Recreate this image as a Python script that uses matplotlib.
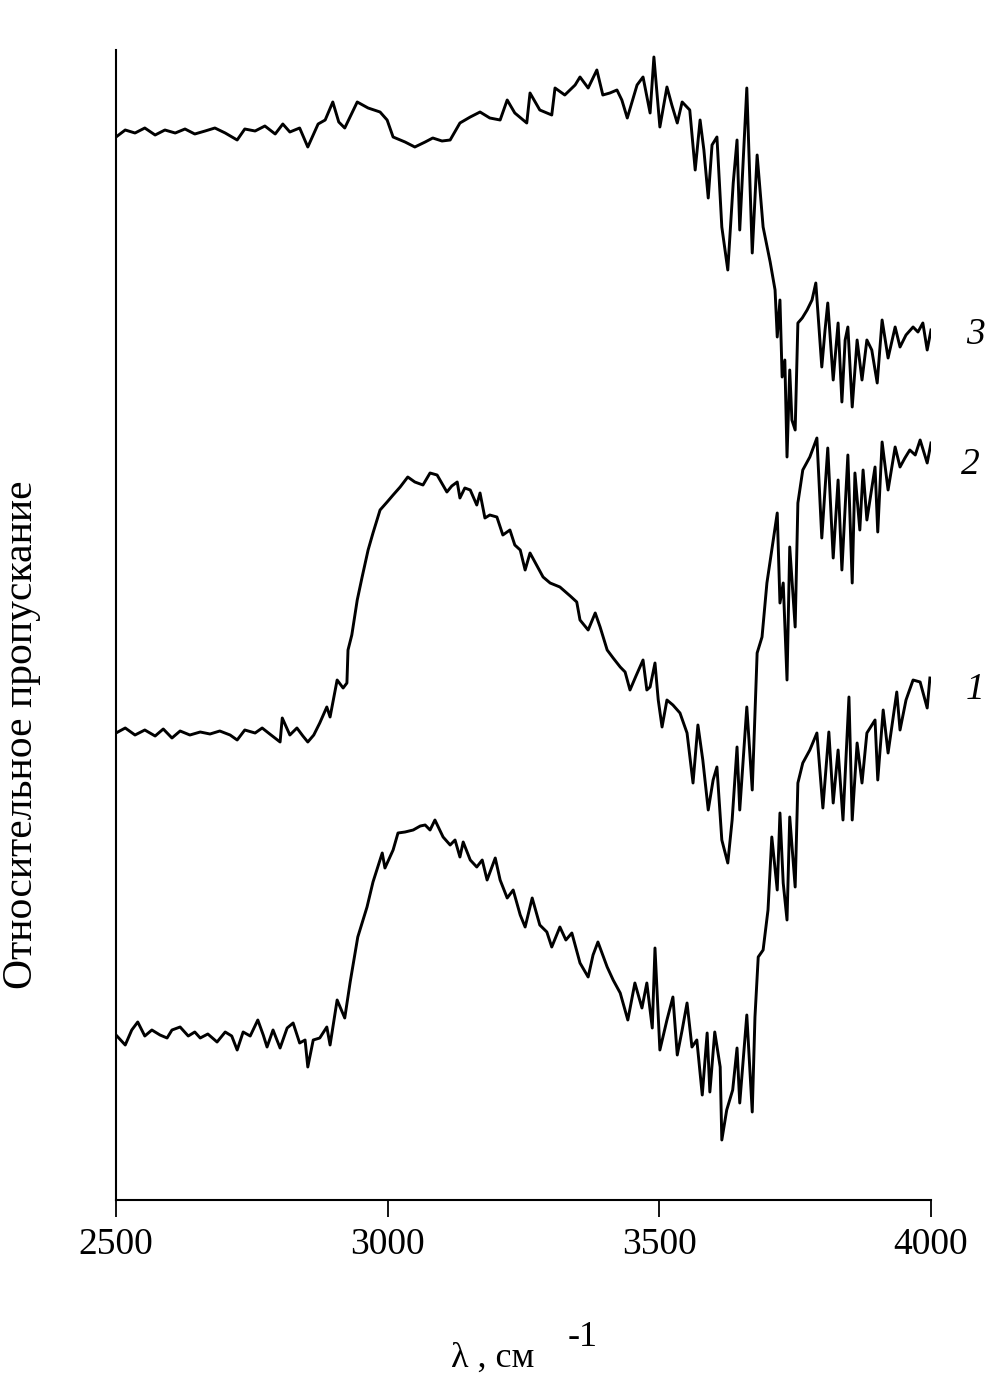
import matplotlib
matplotlib.use("Agg")
import matplotlib.pyplot as plt

plt.rcParams['font.family'] = ['Liberation Serif', 'DejaVu Serif']

# Wavenumber (cm^-1) and relative transmittance (arbitrary units)
curve3 = [(2500,1063),(2517,1070),(2535,1067),(2553,1072),(2572,1065),(2590,1070),(2609,1067),(2627,1071),
          (2645,1066),(2664,1069),(2682,1072),(2701,1067),(2723,1060),(2737,1071),(2756,1069),(2774,1074),
          (2793,1066),(2807,1076),(2820,1068),(2838,1072),(2853,1053),(2872,1076),(2885,1080),(2899,1098),
          (2910,1078),(2921,1072),(2944,1098),(2964,1092),(2986,1088),(2999,1080),(3010,1063),(3032,1058),
          (3050,1053),(3069,1058),(3083,1062),(3100,1059),(3115,1060),(3133,1077),(3152,1083),(3170,1088),
          (3188,1082),(3207,1080),(3220,1100),(3234,1087),(3256,1077),(3262,1107),(3280,1090),(3302,1085),
          (3308,1112),(3326,1105),(3345,1115),(3354,1123),(3369,1112),(3385,1130),(3396,1105),(3409,1107),
          (3422,1110),(3431,1100),(3441,1082),(3459,1115),(3470,1123),(3483,1087),(3490,1143),(3501,1073),
          (3514,1113),(3523,1095),(3533,1077),(3542,1098),(3556,1090),(3566,1030),(3575,1080),(3582,1050),
          (3590,1002),(3597,1055),(3606,1063),(3615,973),(3626,930),(3636,1017),(3643,1060),(3648,970),
          (3661,1112),(3671,947),(3680,1045),(3691,973),(3704,938),(3713,910),(3717,863),(3722,900),
          (3726,823),(3731,840),(3735,743),(3740,830),(3744,780),(3750,770),(3755,877),(3763,882),
          (3772,890),(3781,900),(3788,917),(3799,833),(3805,870),(3810,897),(3820,820),(3829,877),
          (3836,798),(3842,860),(3847,873),(3855,793),(3864,860),(3873,820),(3882,860),(3891,850),
          (3901,817),(3910,880),(3921,842),(3934,873),(3943,853),(3954,865),(3967,873),(3976,868),
          (3985,877),(3993,850),(4000,870)]

curve2 = [(2500,467),(2517,472),(2535,465),(2553,470),(2572,464),(2587,471),(2603,462),(2618,469),
          (2636,465),(2655,468),(2673,466),(2691,469),(2710,465),(2723,460),(2737,470),(2756,467),
          (2769,472),(2783,466),(2802,458),(2806,482),(2820,465),(2833,472),(2844,464),(2853,458),
          (2864,465),(2875,477),(2888,493),(2894,483),(2907,520),(2918,512),(2925,517),(2927,550),
          (2934,565),(2944,600),(2953,623),(2964,650),(2973,667),(2986,690),(2999,698),(3010,705),
          (3023,713),(3037,723),(3050,718),(3065,715),(3078,727),(3091,725),(3109,708),(3118,714),
          (3128,718),(3133,702),(3142,712),(3152,710),(3164,695),(3170,707),(3179,682),(3188,685),
          (3201,683),(3212,665),(3225,670),(3234,655),(3244,650),(3253,630),(3262,647),(3271,638),
          (3286,623),(3299,617),(3317,613),(3336,604),(3348,598),(3354,580),(3369,570),(3382,587),
          (3391,573),(3404,550),(3415,542),(3428,533),(3437,528),(3446,510),(3457,524),(3470,540),
          (3477,510),(3483,513),(3492,537),(3498,500),(3505,473),(3514,500),(3525,495),(3538,487),
          (3551,467),(3562,417),(3571,475),(3580,440),(3590,390),(3599,420),(3606,433),(3615,360),
          (3626,337),(3634,380),(3643,453),(3648,390),(3661,493),(3671,410),(3680,547),(3689,563),
          (3698,617),(3707,650),(3717,687),(3722,597),(3728,617),(3735,520),(3740,653),(3750,573),
          (3755,697),(3764,730),(3777,743),(3790,762),(3799,662),(3810,752),(3820,642),(3829,720),
          (3836,630),(3847,745),(3855,617),(3860,727),(3869,670),(3875,730),(3882,680),(3897,733),
          (3902,668),(3910,758),(3921,710),(3934,753),(3943,733),(3952,742),(3961,750),(3971,745),
          (3980,760),(3993,737),(4000,757)]

curve1 = [(2500,165),(2517,155),(2529,170),(2540,178),(2553,164),(2566,170),(2581,165),(2594,162),
          (2603,170),(2618,173),(2633,164),(2645,168),(2655,162),(2669,166),(2686,158),(2701,168),
          (2713,164),(2723,150),(2734,168),(2747,164),(2761,180),(2771,165),(2778,153),(2789,170),
          (2802,152),(2815,172),(2826,177),(2838,157),(2848,160),(2853,133),(2863,160),(2875,162),
          (2888,173),(2894,155),(2907,200),(2921,182),(2931,218),(2945,263),(2962,293),(2973,318),
          (2990,347),(2995,332),(3010,350),(3019,367),(3032,368),(3047,370),(3060,374),(3069,375),
          (3078,370),(3087,380),(3102,363),(3115,355),(3124,360),(3133,343),(3139,358),(3152,340),
          (3164,333),(3174,340),(3183,320),(3198,342),(3207,320),(3220,302),(3231,310),(3244,285),
          (3253,273),(3266,302),(3280,275),(3293,268),(3302,253),(3317,273),(3328,260),(3339,267),
          (3354,237),(3369,223),(3378,245),(3387,258),(3404,233),(3415,220),(3428,207),(3442,180),
          (3455,217),(3468,192),(3477,217),(3487,172),(3492,252),(3501,150),(3514,180),(3525,203),
          (3533,145),(3542,170),(3551,197),(3560,153),(3569,160),(3579,105),(3588,167),(3593,108),
          (3602,168),(3612,133),(3615,60),(3624,90),(3635,110),(3643,152),(3648,97),(3661,185),
          (3671,88),(3676,183),(3682,243),(3691,250),(3700,290),(3707,363),(3717,310),(3722,387),
          (3728,317),(3735,280),(3740,383),(3750,313),(3755,417),(3764,437),(3777,450),(3790,467),
          (3801,392),(3812,468),(3820,397),(3829,450),(3838,380),(3849,503),(3855,380),(3864,457),
          (3873,417),(3882,467),(3897,480),(3902,420),(3912,490),(3921,447),(3937,508),(3943,470),
          (3954,500),(3967,520),(3980,518),(3993,492),(3998,522)]

curve_labels = ['1', '2', '3']
label_pos = [(4081, 510), (4072, 735), (4081, 865)]
xticks = [2500, 3000, 3500, 4000]

fig = plt.figure(figsize=(10.08, 13.86), dpi=100)
ax = fig.add_axes([116/1008, 186/1386, 815/1008, 1150/1386])

for c in (curve1, curve2, curve3):
    xs = [p[0] for p in c]
    ys = [p[1] for p in c]
    ax.plot(xs, ys, color='black', lw=2.1, solid_joinstyle='round')

ax.set_xlim(2500, 4000)
ax.set_ylim(0, 1150)
ax.set_xticks(xticks)
ax.set_xticklabels([str(t) for t in xticks], fontsize=27)
ax.set_yticks([])
ax.tick_params(axis='x', direction='out', length=12, width=1.3, pad=8)
for s in ('top', 'right'):
    ax.spines[s].set_visible(False)
ax.spines['left'].set_linewidth(1.5)
ax.spines['bottom'].set_linewidth(1.5)

for lab, (x, y) in zip(curve_labels, label_pos):
    ax.text(x, y, lab, fontsize=27, fontstyle='italic', ha='center', va='center', clip_on=False)

fig.text(22/1008, 1 - 735/1386, 'Относительное пропускание', rotation=90,
         fontsize=30, ha='center', va='center')
fig.text(493/1008, 1 - 1358/1386, 'λ , см', fontsize=26, ha='center', va='center')
fig.text(583/1008, 1 - 1338/1386, '-1', fontsize=26, ha='center', va='center')

fig.savefig('out.png', dpi=100, facecolor='white')
